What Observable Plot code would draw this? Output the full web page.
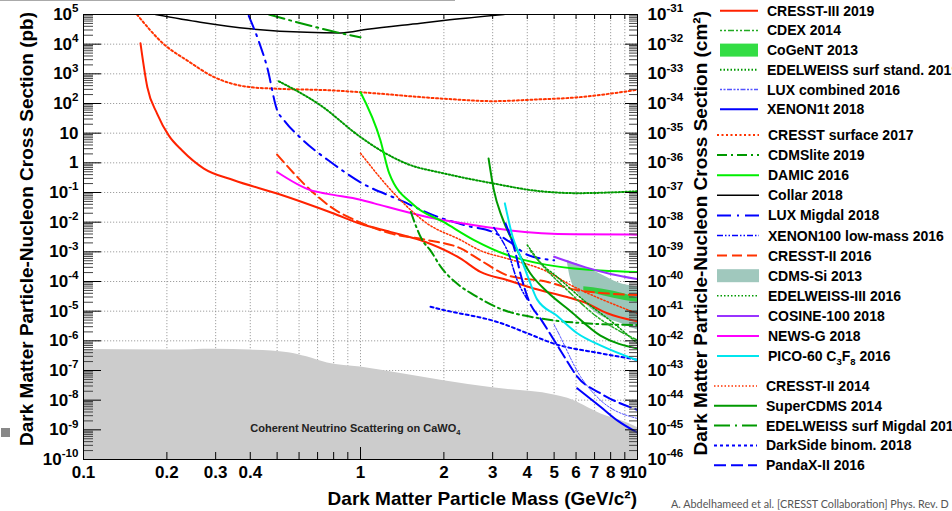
<!DOCTYPE html>
<html><head><meta charset="utf-8">
<script src="https://cdn.jsdelivr.net/npm/d3@7"></script>
<script src="https://cdn.jsdelivr.net/npm/@observablehq/plot@0.6"></script>
<style>
html,body{margin:0;padding:0;background:#fff;width:952px;height:511px;overflow:hidden;font-family:"Liberation Sans",Arial,sans-serif;}
#chart{position:absolute;left:0;top:0;}
#caption{position:absolute;left:671px;top:497px;font-size:10.8px;color:#555;white-space:nowrap;font-family:Lato,"Open Sans",sans-serif;}
#topline{position:absolute;left:0;top:0;width:455px;height:1px;background:#aaa;}
#mark{position:absolute;left:1px;top:428px;width:9px;height:9px;background:#888;}
</style></head><body>
<div id="chart"></div>
<div id="topline"></div>
<div id="mark"></div>
<div id="caption">A. Abdelhameed et al. [CRESST Collaboration] Phys. Rev. D</div>
<script>
// ---------- axis values ----------
const massDomain = [0.1, 10];            // GeV/c^2
const sigmaDomain = [1e-10, 1e5];        // pb
const xTickLabels = [0.1, 0.2, 0.3, 0.4, 1, 2, 3, 4, 5, 6, 7, 8, 9, 10];
const xGridValues = [0.1, 0.2, 0.3, 0.4, 0.5, 0.6, 0.7, 0.8, 0.9, 1, 2, 3, 4, 5, 6, 7, 8, 9, 10];
const xMajorTicks = [0.1, 1, 10];
const yExponents = [-10, -9, -8, -7, -6, -5, -4, -3, -2, -1, 0, 1, 2, 3, 4, 5];
const cmPerPbExponent = -36;             // 1 pb = 1e-36 cm^2

// ---------- series: [mass GeV, cross section pb] ----------
const cresst3_2019 = [[0.1606,1.07e4],[0.170,355],[0.1845,45],[0.203,8.4],[0.227,2.6],[0.272,0.64],[0.349,0.258],[0.5,0.092],[0.8,0.0195],[1.0,0.0088],[1.28,4.7e-3],[1.65,2.45e-3],[2.3,5.9e-4],[2.71,2.1e-4],[3.4,1.1e-4],[4.22,5.8e-5],[5.57,3.0e-5],[6.5,1.9e-5],[7.78,8.5e-6],[10,4.5e-6]];
const cresstSurf2017 = [[0.156,1e5],[0.195,1.0e4],[0.237,2800],[0.296,780],[0.4,355],[0.5,315],[0.8,275],[1,240],[2,145],[3,120],[4.2,135],[6,160],[10,290]];
const cresst2_2016 = [[0.5,1.9],[0.66,0.12],[0.8,0.028],[0.97,0.011],[1.28,4.2e-3],[1.74,2.5e-3],[2.3,1.3e-3],[2.71,5.2e-4],[3.4,1.6e-4],[4.7,9.8e-5],[6.06,5.1e-5],[10,3.5e-5]];
const cresst2_2014 = [[1.0,2.1],[1.36,0.07],[1.74,9e-3],[2.3,2.5e-3],[2.71,1.1e-3],[3.39,5.9e-4],[4.6,2.4e-4],[5.9,6.6e-5],[7.1,3e-5],[10,8.3e-6]];
const collar2018 = [[0.182,1e5],[0.264,5.5e4],[0.4,3.3e4],[0.64,2.5e4],[0.85,2.4e4],[1.06,3.2e4],[1.65,5.1e4],[2.1,6.6e4],[3.3,1e5]];
const edwMigdal2019 = [[0.467,1e5],[0.824,2.5e4],[1.0,1.7e4]];
const edwSurf2019 = [[0.507,560],[0.717,87],[1,7.4],[1.21,2.3],[1.47,0.93],[2.0,0.44],[3.03,0.2],[4.22,0.117],[6.06,0.095],[10,0.11]];
const luxMigdal2018 = [[0.395,9e4],[0.43,1.2e4],[0.46,1.7e3],[0.5,60],[0.53,27],[0.607,7],[0.8,0.9],[1,0.22],[1.39,0.055],[1.84,0.017],[2.43,7.5e-3],[3.03,4.5e-3],[3.5,2e-3],[4.0,8e-4],[5.0,5.2e-4]];
const newsG2018 = [[0.5,0.49],[0.66,0.12],[0.76,0.09],[1.0,0.057],[1.12,0.043],[1.74,0.015],[2.3,9.3e-3],[3.4,5.4e-3],[5.9,3.9e-3],[10,3.8e-3]];
const damic2016 = [[1.0,240],[1.18,5.8],[1.27,0.44],[1.56,0.037],[2.0,0.01],[2.57,2.5e-3],[3.39,7.8e-4],[4.46,4e-4],[5.9,2.75e-4],[10,2.1e-4]];
const cdmslite2019 = [[1.52,0.022],[1.67,2.5e-3],[1.79,1.1e-3],[1.95,3.1e-4],[2.23,8.5e-5],[2.57,3.5e-5],[3.2,1.2e-5],[4.5,5.6e-6],[6.5,3.9e-6],[10,3.4e-6]];
const darkSide2018 = [[1.79,1.4e-5],[1.95,1.15e-5],[3.2,4e-6],[4.0,1.8e-6],[5.0,8e-7],[7.35,3.8e-7],[10,2.3e-7]];
const superCdms2014 = [[2.9,1.4],[3.03,0.12],[3.24,0.015],[3.58,1.9e-3],[4.1,1.9e-4],[4.72,4.5e-5],[5.73,1e-5],[7.35,1.5e-6],[10,5.5e-7]];
const pico60_2016 = [[3.32,0.043],[3.55,3e-3],[3.78,6.8e-4],[4.05,1.2e-4],[4.34,2.5e-5],[5.12,7e-6],[6.06,1.8e-6],[7.35,7e-7],[10,2.2e-7]];
const xenon100lm2016 = [[3.03,6.6e-3],[3.2,3e-3],[3.39,1.1e-3],[3.68,1.1e-4],[4.0,2.5e-5]];
const pandax2_2016 = [[3.34,9e-3],[3.6,1.2e-3],[3.8,1.5e-4],[4.05,2.3e-5],[4.5,5e-6],[5.0,1.05e-6],[5.5,2.5e-7],[6.06,6.2e-8],[7.35,1.7e-8],[10,4.7e-9]];
const luxComb2016 = [[5.0,3.5e-6],[5.12,2.3e-6],[6.23,6.2e-8],[7.35,1e-8],[10,2.4e-9]];
const xenon1t2018 = [[6.06,2.5e-8],[7.35,6e-9],[8.5,2e-9],[10,8e-10]];
const edw3_2016 = [[4.0,1.7e-3],[4.5,4e-4],[5.12,1.45e-4],[6.4,2.3e-5],[8.21,3.9e-6],[10,8.1e-7]];
const cdex2014 = [[4.1,1.1e-3],[4.6,3e-4],[5.42,6.6e-5],[7.14,6.5e-6],[10,1.05e-6]];
const cosine2018 = [[5.0,6.8e-4],[6.5,3e-4],[8,1.8e-4],[10,1.2e-4]];
// bands: [mass, lower, upper]
const cdmsSi2013 = [[5.57,5.0e-4,5.2e-4],[5.73,1.26e-4,4.6e-4],[6.23,3e-5,3.3e-4],[7.14,8.3e-6,2e-4],[8.67,3.9e-6,8.5e-5],[10,2.3e-6,6.6e-5]];
const cogent2013 = [[6.4,5e-5,6.6e-5],[7.5,3.3e-5,5.5e-5],[9,2.3e-5,3.8e-5],[10,2e-5,2.8e-5]];
// neutrino floor on CaWO4: [mass, cross section]
const neutrinoFloor = [[0.1,5.1e-7],[0.2,4.9e-7],[0.3,5.2e-7],[0.4,4.9e-7],[0.55,4e-7],[0.64,2.9e-7],[0.76,1.8e-7],[1.0,1.3e-7],[2.0,4.5e-8],[3.0,2.6e-8],[5.0,1.5e-8],[5.6,1.15e-8],[7.35,3.5e-9],[9.2,1.7e-9],[10,1.2e-9]];
const neutrinoLabel = [{x: 0.4, y: 1.1e-9, text: "Coherent Neutrino Scattering on CaWO_4"}];

// ---------- styles ----------
const lineSeries = [
  {name:"Collar 2018", data:collar2018, stroke:"#000000", sw:1.5, dash:null},
  {name:"EDELWEISS surf Migdal 2019", data:edwMigdal2019, stroke:"#009900", sw:2, dash:"16,5,2,5"},
  {name:"CRESST surface 2017", data:cresstSurf2017, stroke:"#ff3300", sw:2, dash:"2,2.5"},
  {name:"EDELWEISS surf stand. 2019", data:edwSurf2019, stroke:"#009900", sw:2, dash:"1.5,2"},
  {name:"LUX Migdal 2018", data:luxMigdal2018, stroke:"#0000ff", sw:2, dash:"14,6,2,6"},
  {name:"CRESST-III 2019", data:cresst3_2019, stroke:"#ff2200", sw:2, dash:null},
  {name:"CRESST-II 2016", data:cresst2_2016, stroke:"#ff3300", sw:2, dash:"10,5"},
  {name:"NEWS-G 2018", data:newsG2018, stroke:"#ff00ff", sw:2, dash:null},
  {name:"CRESST-II 2014", data:cresst2_2014, stroke:"#ff3300", sw:1.5, dash:"1.5,2"},
  {name:"DAMIC 2016", data:damic2016, stroke:"#00ee00", sw:2, dash:null},
  {name:"CDMSlite 2019", data:cdmslite2019, stroke:"#009900", sw:2, dash:"10,4,2,4"},
  {name:"DarkSide binom. 2018", data:darkSide2018, stroke:"#0000ff", sw:2, dash:"3,3"},
  {name:"SuperCDMS 2014", data:superCdms2014, stroke:"#009900", sw:2, dash:null},
  {name:"PICO-60 C_3F_8 2016", data:pico60_2016, stroke:"#00e5ee", sw:2, dash:null},
  {name:"XENON100 low-mass 2016", data:xenon100lm2016, stroke:"#0000ff", sw:1.5, dash:"6,2,1.5,2,1.5,2"},
  {name:"PandaX-II 2016", data:pandax2_2016, stroke:"#0000ff", sw:2, dash:"12,5"},
  {name:"LUX combined 2016", data:luxComb2016, stroke:"#5555ff", sw:1, dash:"2,1.5,2,1.5,5,1.5"},
  {name:"XENON1t 2018", data:xenon1t2018, stroke:"#0000ff", sw:2, dash:null},
  {name:"EDELWEISS-III 2016", data:edw3_2016, stroke:"#009900", sw:1.5, dash:"1.5,2"},
  {name:"CDEX 2014", data:cdex2014, stroke:"#22aa22", sw:1.5, dash:"2,2,2,2,6,2"},
  {name:"COSINE-100 2018", data:cosine2018, stroke:"#9933ff", sw:2, dash:null}
];
const bandSeries = [
  {name:"CDMS-Si 2013", data:cdmsSi2013, fill:"#9cc6ba"},
  {name:"CoGeNT 2013", data:cogent2013, fill:"#33cc44"}
];
const legendGroups = [
  ["CRESST-III 2019","CDEX 2014","CoGeNT 2013","EDELWEISS surf stand. 2019","LUX combined 2016","XENON1t 2018"],
  ["CRESST surface 2017","CDMSlite 2019","DAMIC 2016","Collar 2018","LUX Migdal 2018","XENON100 low-mass 2016","CRESST-II 2016","CDMS-Si 2013","EDELWEISS-III 2016","COSINE-100 2018","NEWS-G 2018","PICO-60 C_3F_8 2016"],
  ["CRESST-II 2014","SuperCDMS 2014","EDELWEISS surf Migdal 2019","DarkSide binom. 2018","PandaX-II 2016"]
];

// ---------- layout ----------
const W = 952, H = 511, mL = 83, mR = 315, mT = 14, mB = 52;
const plotW = W - mL - mR, plotH = H - mT - mB;

const yDecades = yExponents.map(e => Math.pow(10, e));
const yMinor = [];
yExponents.slice(0, -1).forEach(e => { for (let j = 2; j <= 9; j++) yMinor.push(j * Math.pow(10, e)); });
const xMinor = xGridValues.filter(v => !xMajorTicks.includes(v));
const expOf = d => Math.round(Math.log10(d));
const leftFmt = d => { const e = expOf(d); return e === 0 ? "1" : e === 1 ? "10" : "10^" + e; };
const rightFmt = d => "10^" + (expOf(d) + cmPerPbExponent);

const marks = [
  Plot.gridX(xGridValues, {stroke:"#888", strokeOpacity:0.8, strokeDasharray:"1.2,1.8", strokeWidth:1}),
  Plot.gridY(yDecades, {stroke:"#888", strokeOpacity:0.8, strokeDasharray:"1.2,1.8", strokeWidth:1}),
  Plot.areaY(neutrinoFloor, {x: d => d[0], y1: sigmaDomain[0], y2: d => d[1], fill:"#cccccc", curve:"monotone-x"}),
  ...bandSeries.map(b => Plot.areaY(b.data, {x: d => d[0], y1: d => d[1], y2: d => d[2], fill: b.fill, curve:"monotone-x", clip:true})),
  ...lineSeries.map(s => Plot.line(s.data, {x: d => d[0], y: d => d[1], stroke: s.stroke, strokeWidth: s.sw, strokeDasharray: s.dash, curve:"monotone-x", clip:true})),
  Plot.text(neutrinoLabel, {x:"x", y:"y", text:"text", fontSize:11, fontWeight:"bold", fill:"#222", textAnchor:"start"}),
  // tick marks (inward)
  Plot.tickX(xMajorTicks, {x: d => d, insetTop: plotH - 12, stroke:"#000"}),
  Plot.tickX(xMinor, {x: d => d, insetTop: plotH - 7, stroke:"#000"}),
  Plot.tickX(xMajorTicks, {x: d => d, insetBottom: plotH - 8, stroke:"#000"}),
  Plot.tickX(xMinor, {x: d => d, insetBottom: plotH - 5, stroke:"#000"}),
  Plot.tickY(yDecades, {y: d => d, insetRight: plotW - 18, stroke:"#000"}),
  Plot.tickY(yMinor, {y: d => d, insetRight: plotW - 10, stroke:"#444"}),
  Plot.tickY(yDecades, {y: d => d, insetLeft: plotW - 12, stroke:"#000"}),
  Plot.tickY(yMinor, {y: d => d, insetLeft: plotW - 8, stroke:"#444"}),
  // x tick labels (drawn as text at the bottom frame so that no label is dropped)
  Plot.text(xTickLabels, {x: d => d, frameAnchor:"bottom", lineAnchor:"top", dy:6, text: d => String(d), fontSize:17, fontWeight:"bold", fill:"#000"}),
  Plot.axisY(yDecades, {anchor:"left", tickSize:0, tickPadding:5, tickFormat: leftFmt, fontSize:17, fontWeight:"bold", label:null}),
  Plot.axisY(yDecades, {anchor:"right", tickSize:0, tickPadding:10, tickFormat: rightFmt, fontSize:17, fontWeight:"bold", label:null}),
  Plot.frame({stroke:"#000", strokeWidth:1})
];

const chart = Plot.plot({
  width: W, height: H,
  marginLeft: mL, marginRight: mR, marginTop: mT, marginBottom: mB,
  x: {type:"log", domain: massDomain, axis: null},
  y: {type:"log", domain: sigmaDomain},
  style: {fontFamily:"'Liberation Sans', Arial, sans-serif", fontWeight:"bold", color:"#000", background:"#fff", overflow:"visible"},
  marks
});
document.getElementById("chart").appendChild(chart);

// ---------- rich text (superscripts / subscripts) ----------
function rich(textNode, str, F) {
  const t = d3.select(textNode); t.text(null);
  const re = /([\^_])(-?\d+)/g; let last = 0, m, off = 0;
  const add = (s, dy, size) => { const sp = t.append("tspan").text(s); if (dy) sp.attr("dy", dy); if (size) sp.attr("font-size", size); };
  while ((m = re.exec(str))) {
    if (m.index > last) { add(str.slice(last, m.index), off ? -off : 0); off = 0; }
    const d = m[1] === "^" ? -0.45 * F : 0.3 * F;
    add(m[2], d - off, (0.68 * F).toFixed(1)); off = d;
    last = re.lastIndex;
  }
  if (last < str.length) add(str.slice(last), off ? -off : 0);
}
const svg = d3.select(chart);
svg.selectAll("text").each(function() {
  const s = this.textContent;
  if (/[\^_]-?\d/.test(s)) {
    const fs = parseFloat(this.getAttribute("font-size") || d3.select(this.parentNode).attr("font-size") || 17);
    rich(this, s, fs);
  }
});

// ---------- axis titles ----------
const titleFont = 19;
svg.append("text").attr("transform", "translate(33,12) rotate(-90)").attr("text-anchor","end")
  .attr("font-size", titleFont).attr("font-weight","bold").attr("fill","#000")
  .text("Dark Matter Particle-Nucleon Cross Section (pb)");
svg.append("text").attr("transform", "translate(707,11) rotate(-90)").attr("text-anchor","end")
  .attr("font-size", titleFont).attr("font-weight","bold").attr("fill","#000")
  .text("Dark Matter Particle-Nucleon Cross Section (cm²)");
svg.append("text").attr("x", 637).attr("y", 505).attr("text-anchor","end")
  .attr("font-size", titleFont).attr("font-weight","bold").attr("fill","#000")
  .text("Dark Matter Particle Mass (GeV/c²)");

// ---------- legend ----------
const groupLayout = [
  {y0:10.7, step:19.7, x1:720, x2:758, tx:767},
  {y0:135, step:20.1, x1:717, x2:759, tx:768},
  {y0:386, step:19.8, x1:714, x2:757, tx:766}
];
const lg = svg.append("g").attr("font-size", 14).attr("font-weight","bold").attr("text-anchor","start");
legendGroups.forEach((names, gi) => {
  const L = groupLayout[gi];
  names.forEach((name, i) => {
    const y = L.y0 + i * L.step;
    const ls = lineSeries.find(s => s.name === name);
    const bs = bandSeries.find(s => s.name === name);
    if (ls) {
      lg.append("line").attr("x1", L.x1).attr("x2", L.x2).attr("y1", y).attr("y2", y)
        .attr("stroke", ls.stroke).attr("stroke-width", Math.max(ls.sw, 1.5)).attr("stroke-dasharray", ls.dash);
    } else if (bs) {
      lg.append("rect").attr("x", L.x1).attr("y", y - 6.5).attr("width", L.x2 - L.x1).attr("height", 13)
        .attr("fill", bs.name === "CoGeNT 2013" ? "#33dd44" : "#a0c8bd");
    }
    const tx = lg.append("text").attr("x", L.tx).attr("y", y).attr("dy", "0.36em").attr("fill", "#000").attr("text-anchor","start");
    if (/_\d/.test(name)) rich(tx.node(), name, 14); else tx.text(name);
  });
});
</script></body></html>
